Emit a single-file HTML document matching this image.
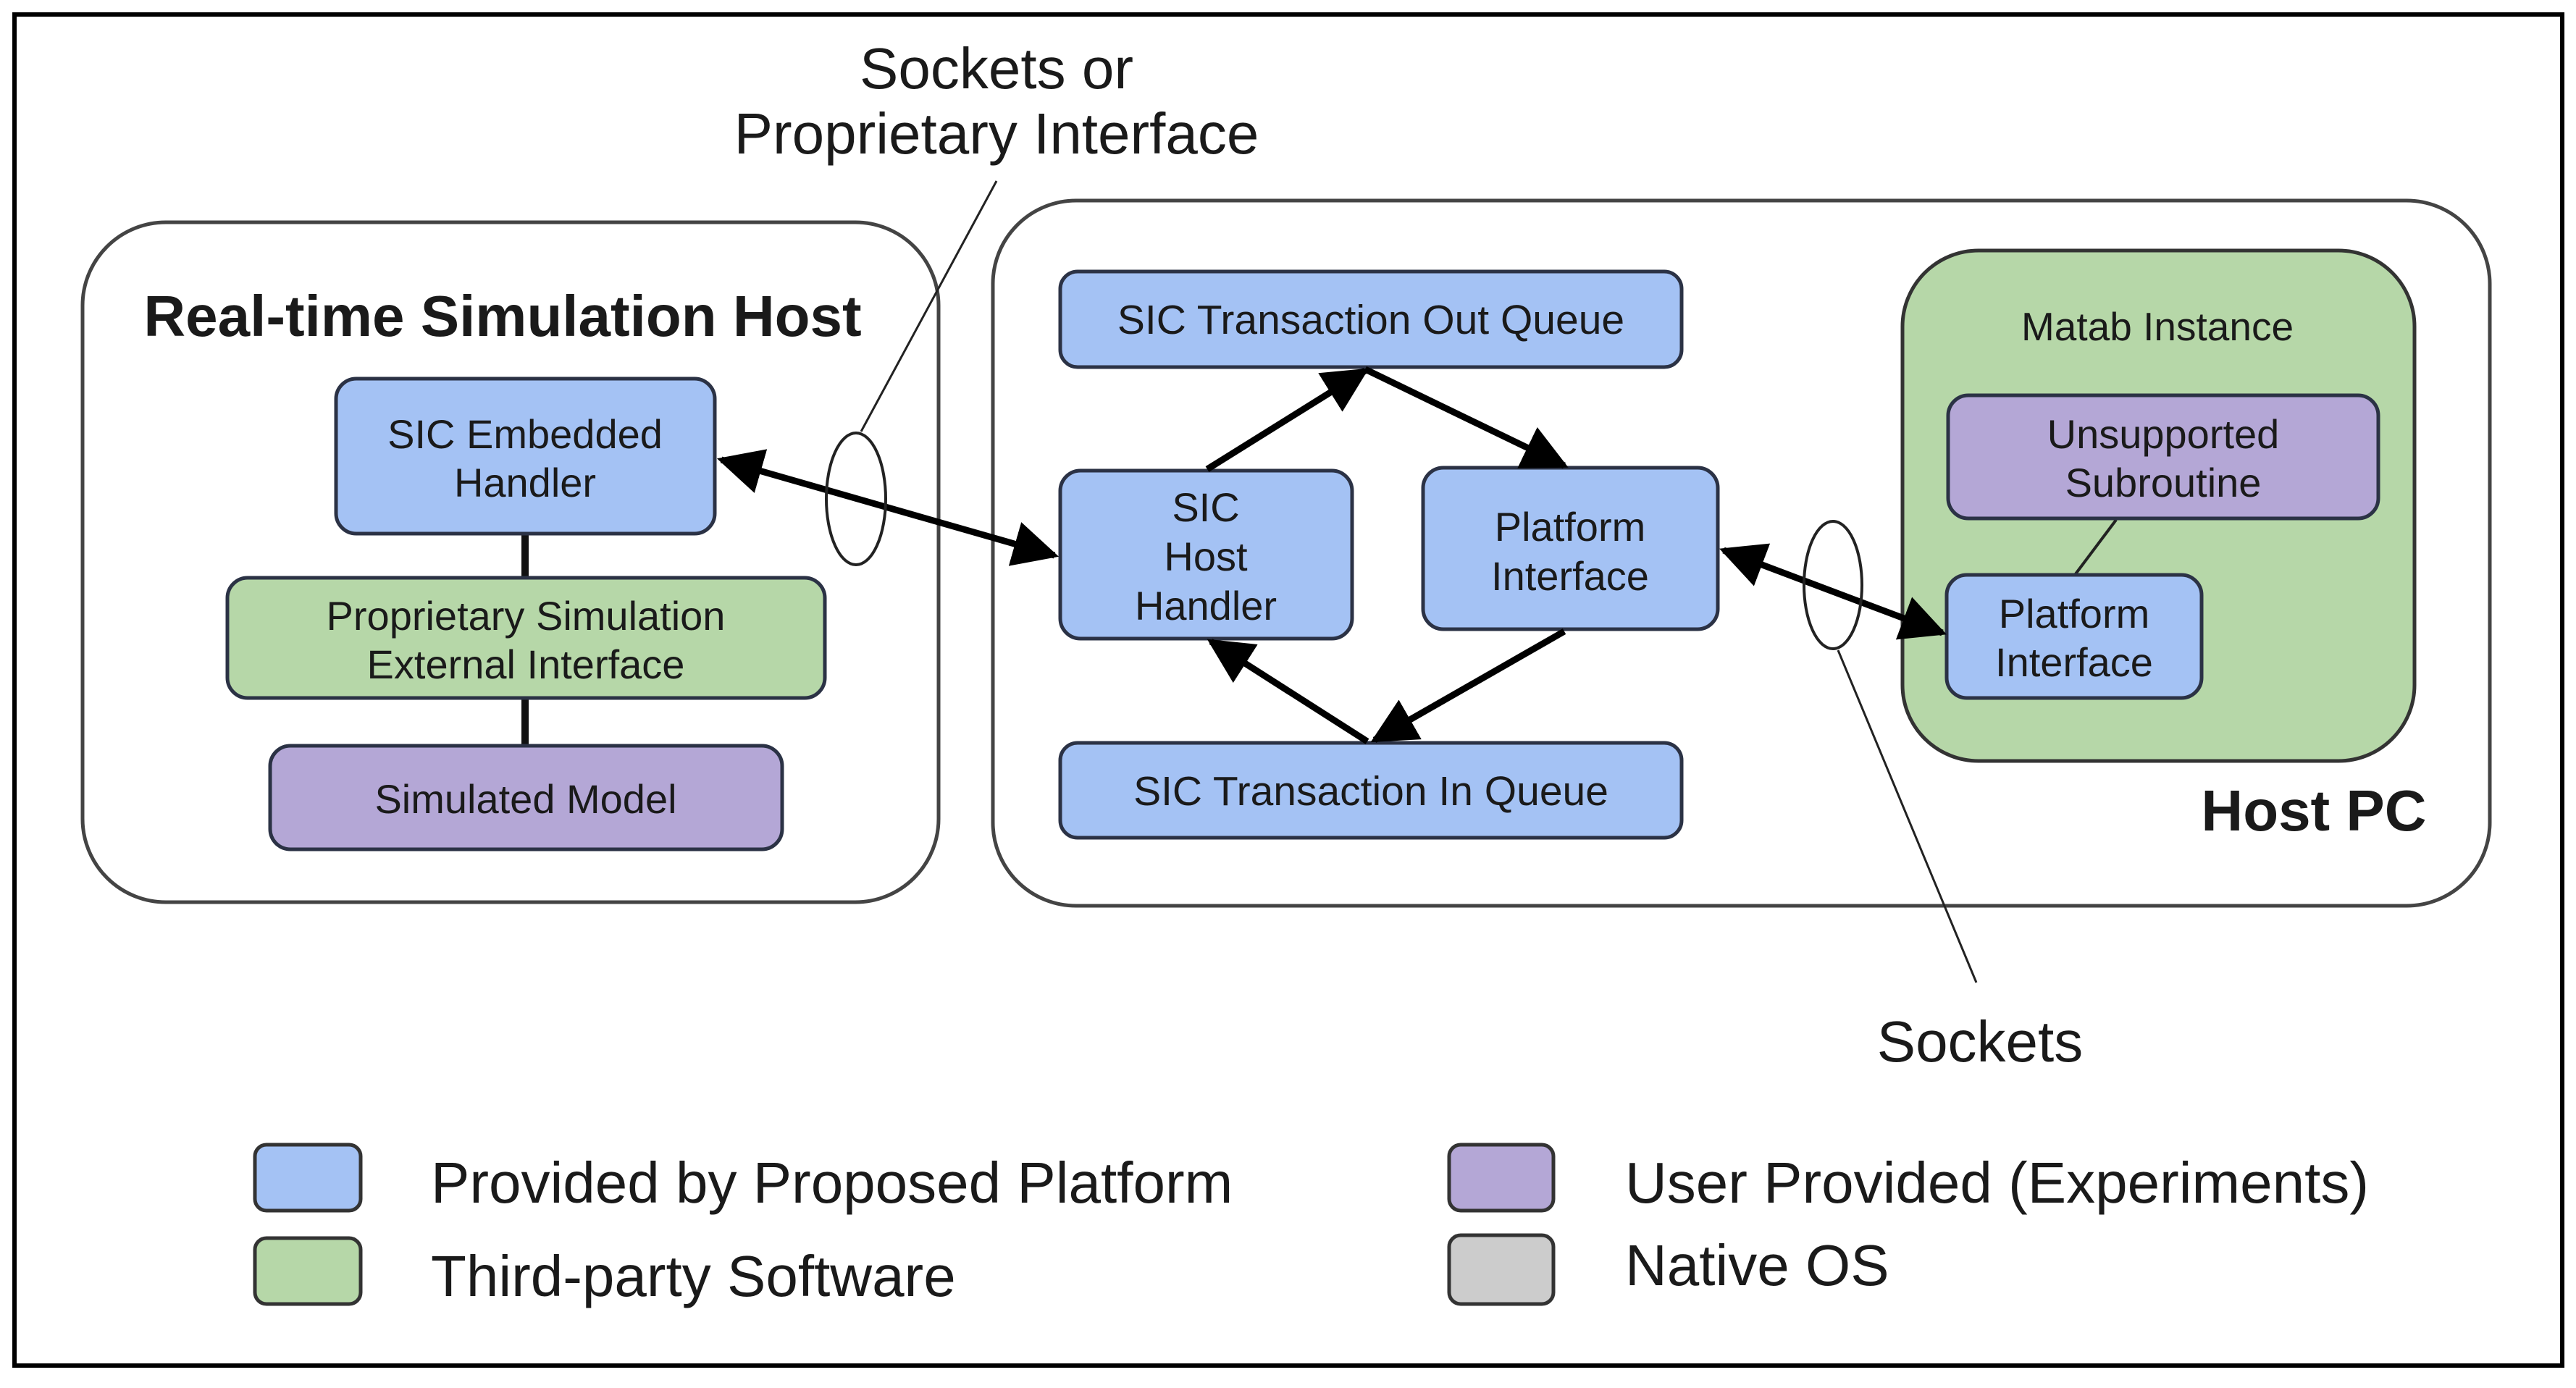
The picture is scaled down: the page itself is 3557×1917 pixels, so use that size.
<!DOCTYPE html>
<html><head><meta charset="utf-8"><style>
html,body{margin:0;padding:0;background:#fff;}
svg{display:block;}
text{font-family:"Liberation Sans",Arial,sans-serif;fill:#1a1a1a;}
</style></head><body>
<svg width="3557" height="1917" viewBox="0 0 3557 1917" xmlns="http://www.w3.org/2000/svg">
<defs>
<marker id="ah" viewBox="0 0 10 10" refX="9" refY="5" markerWidth="7" markerHeight="7" markerUnits="strokeWidth" orient="auto-start-reverse">
<path d="M0,0 L10,5 L0,10 z" fill="#000"/></marker>
</defs>
<rect x="0" y="0" width="3557" height="1917" fill="#fff"/>
<rect x="20" y="20" width="3518" height="1866" fill="none" stroke="#000" stroke-width="6"/>

<!-- Left host -->
<rect x="114" y="307" width="1182" height="939" rx="115" fill="#fff" stroke="#444" stroke-width="5"/>
<text x="694" y="464" font-size="80" font-weight="bold" text-anchor="middle">Real-time Simulation Host</text>
<line x1="725" y1="737" x2="725" y2="798" stroke="#111" stroke-width="10"/>
<line x1="725" y1="964" x2="725" y2="1030" stroke="#111" stroke-width="10"/>
<rect x="464" y="523" width="523" height="214" rx="28" fill="#a4c2f4" stroke="#2b3245" stroke-width="5"/>
<text x="725" y="619" font-size="56" text-anchor="middle">SIC Embedded</text>
<text x="725" y="686" font-size="56" text-anchor="middle">Handler</text>
<rect x="314" y="798" width="825" height="166" rx="28" fill="#b6d7a8" stroke="#2b3245" stroke-width="5"/>
<text x="726" y="870" font-size="56" text-anchor="middle">Proprietary Simulation</text>
<text x="726" y="937" font-size="56" text-anchor="middle">External Interface</text>
<rect x="373" y="1030" width="707" height="143" rx="28" fill="#b4a7d6" stroke="#2b3245" stroke-width="5"/>
<text x="726" y="1123" font-size="56" text-anchor="middle">Simulated Model</text>

<!-- Right host -->
<rect x="1371" y="277" width="2067" height="974" rx="115" fill="#fff" stroke="#444" stroke-width="5"/>
<text x="3195" y="1147" font-size="80" font-weight="bold" text-anchor="middle">Host PC</text>

<rect x="1464" y="375" width="858" height="132" rx="24" fill="#a4c2f4" stroke="#2b3245" stroke-width="5"/>
<text x="1893" y="461" font-size="57" text-anchor="middle">SIC Transaction Out Queue</text>
<rect x="1464" y="650" width="403" height="232" rx="28" fill="#a4c2f4" stroke="#2b3245" stroke-width="5"/>
<text x="1665" y="720" font-size="56" text-anchor="middle">SIC</text>
<text x="1665" y="788" font-size="56" text-anchor="middle">Host</text>
<text x="1665" y="856" font-size="56" text-anchor="middle">Handler</text>
<rect x="1965" y="646" width="407" height="223" rx="28" fill="#a4c2f4" stroke="#2b3245" stroke-width="5"/>
<text x="2168" y="747" font-size="56" text-anchor="middle">Platform</text>
<text x="2168" y="815" font-size="56" text-anchor="middle">Interface</text>
<rect x="1464" y="1026" width="858" height="131" rx="24" fill="#a4c2f4" stroke="#2b3245" stroke-width="5"/>
<text x="1893" y="1112" font-size="57" text-anchor="middle">SIC Transaction In Queue</text>

<!-- Matlab -->
<rect x="2627" y="346" width="707" height="705" rx="105" fill="#b6d7a8" stroke="#333" stroke-width="5"/>
<text x="2979" y="470" font-size="55" text-anchor="middle">Matab Instance</text>
<line x1="2922" y1="718" x2="2865" y2="794" stroke="#222" stroke-width="4"/>
<rect x="2690" y="546" width="594" height="170" rx="28" fill="#b4a7d6" stroke="#2b3245" stroke-width="5"/>
<text x="2987" y="619" font-size="56" text-anchor="middle">Unsupported</text>
<text x="2987" y="686" font-size="56" text-anchor="middle">Subroutine</text>
<rect x="2688" y="794" width="352" height="170" rx="28" fill="#a4c2f4" stroke="#2b3245" stroke-width="5"/>
<text x="2864" y="867" font-size="56" text-anchor="middle">Platform</text>
<text x="2864" y="934" font-size="56" text-anchor="middle">Interface</text>

<!-- Arrows -->
<g stroke="#000" stroke-width="9" fill="none">
<line x1="996" y1="635" x2="1456" y2="767" marker-start="url(#ah)" marker-end="url(#ah)"/>
<line x1="1667" y1="648" x2="1885" y2="512" marker-end="url(#ah)"/>
<line x1="1885" y1="510" x2="2160" y2="643" marker-end="url(#ah)"/>
<line x1="2160" y1="872" x2="1898" y2="1022" marker-end="url(#ah)"/>
<line x1="1888" y1="1024" x2="1672" y2="886" marker-end="url(#ah)"/>
<line x1="2380" y1="760" x2="2682" y2="874" marker-start="url(#ah)" marker-end="url(#ah)"/>
</g>
<ellipse cx="1182" cy="689" rx="41" ry="91" fill="none" stroke="#222" stroke-width="4"/>
<ellipse cx="2531" cy="808" rx="40" ry="88" fill="none" stroke="#222" stroke-width="4"/>
<line x1="1376" y1="250" x2="1189" y2="596" stroke="#222" stroke-width="3"/>
<line x1="2729" y1="1357" x2="2538" y2="898" stroke="#222" stroke-width="3"/>

<text x="1376" y="122" font-size="80" text-anchor="middle">Sockets or</text>
<text x="1376" y="212" font-size="80" text-anchor="middle">Proprietary Interface</text>
<text x="2734" y="1466" font-size="80" text-anchor="middle">Sockets</text>

<!-- Legend -->
<rect x="352" y="1581" width="146" height="91" rx="16" fill="#a4c2f4" stroke="#333" stroke-width="5"/>
<rect x="352" y="1710" width="146" height="91" rx="16" fill="#b6d7a8" stroke="#333" stroke-width="5"/>
<rect x="2001" y="1581" width="144" height="91" rx="16" fill="#b4a7d6" stroke="#333" stroke-width="5"/>
<rect x="2001" y="1706" width="144" height="95" rx="16" fill="#cccccc" stroke="#333" stroke-width="5"/>
<text x="595" y="1661" font-size="80">Provided by Proposed Platform</text>
<text x="595" y="1790" font-size="80">Third-party Software</text>
<text x="2244" y="1661" font-size="80">User Provided (Experiments)</text>
<text x="2244" y="1775" font-size="80">Native OS</text>
</svg>
</body></html>
